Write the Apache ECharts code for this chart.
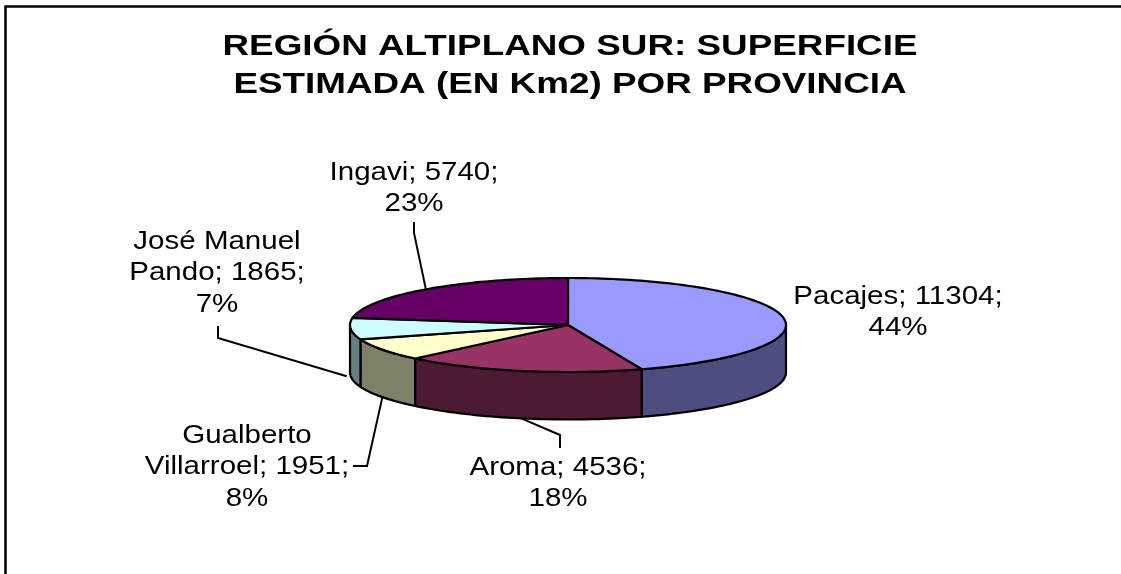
<!DOCTYPE html>
<html><head><meta charset="utf-8">
<style>html,body{margin:0;padding:0;background:#fff}#c{width:1121px;height:574px}</style>
<script src="https://cdn.jsdelivr.net/npm/echarts@6/dist/echarts.min.js"></script>
</head><body><div id="c"></div>
<script>
const titleLines = ['REGIÓN ALTIPLANO SUR: SUPERFICIE','ESTIMADA (EN Km2) POR PROVINCIA'];
const categories = ['Pacajes','Aroma','Gualberto Villarroel','José Manuel Pando','Ingavi'];
const values = [11304,4536,1951,1865,5740];
const percents = [44,18,8,7,23];
const topColors = ['#9999FF','#993366','#FFFFCC','#CCFFFF','#660066'];
const sideColors = ['#4D4D80','#4D1A33','#808066','#668080','#330033'];
const labelLines = [
  ['Pacajes; 11304;','44%'],
  ['Aroma; 4536;','18%'],
  ['Gualberto','Villarroel; 1951;','8%'],
  ['José Manuel','Pando; 1865;','7%'],
  ['Ingavi; 5740;','23%']
];
const cx=568, cy=325, rx=218, ry=47, depth=47.5;
const labelPos=[[898,281],[558,452],[247,420],[217,226],[414,157]];
const leaderMid=[null,[[560,435],[560,448]],[[367,466],[353,466]],[[218,338],[218,326]],[[414,233],[414,222]]];
const leaderOnSide=[false,true,true,true,false];
const leaderGap=[0,0,0,4,0];
const total=values.reduce((a,b)=>a+b,0);
const rad=d=>d*Math.PI/180;
const pt=(t,dy)=>[cx+rx*Math.sin(t),cy-ry*Math.cos(t)+(dy||0)];
const arc=(a,b,dy)=>{const n=Math.max(2,Math.ceil(Math.abs(b-a)/rad(1.5)));const p=[];for(let i=0;i<=n;i++)p.push(pt(a+(b-a)*i/n,dy));return p;};
const angles=[];let acc=0;values.forEach(v=>{const s=acc/total*2*Math.PI;acc+=v;angles.push([s,acc/total*2*Math.PI]);});
const stroke={stroke:'#000',lineWidth:2.2,lineJoin:'round'};
function renderItem(params,api){
  const i=api.value(0);const [s,e]=angles[i];const ch=[];
  const a=Math.max(s,Math.PI/2),b=Math.min(e,Math.PI*1.5);
  if(b>a){const up=arc(a,b,0),dn=arc(a,b,depth).reverse();
    ch.push({type:'polygon',shape:{points:up.concat(dn)},style:{fill:sideColors[i],...stroke}});}
  return {type:'group',children:ch.concat([{type:'polygon',shape:{points:[[cx,cy]].concat(arc(s,e,0))},style:{fill:topColors[i],...stroke}}])};
}
function renderLabel(params,api){
  const i=api.value(0);const [s,e]=angles[i];const m=(s+e)/2;const ch=[];
  if(leaderMid[i]){const a=pt(m,leaderOnSide[i]?depth:0);a[0]-=leaderGap[i];
    ch.push({type:'polyline',shape:{points:[a].concat(leaderMid[i])},style:{fill:null,stroke:'#000',lineWidth:2}});}
  ch.push({type:'text',x:labelPos[i][0],y:labelPos[i][1],scaleX:1.18,style:{text:labelLines[i].join('\n'),fill:'#000',font:'25px "Liberation Sans"',align:'center',verticalAlign:'top',lineHeight:31.5}});
  return {type:'group',children:ch};
}
const chart=echarts.init(document.getElementById('c'),null,{renderer:'canvas'});
chart.setOption({
  animation:false,backgroundColor:'#fff',
  xAxis:{show:false},yAxis:{show:false},
  series:[
    {type:'custom',coordinateSystem:'none',renderItem,data:values.map((v,i)=>[i,v]),z:2,silent:true},
    {type:'custom',coordinateSystem:'none',renderItem:renderLabel,data:values.map((v,i)=>[i,v]),z:3,silent:true}
  ],
  graphic:[
    {type:'polyline',shape:{points:[[5.5,574],[5.5,6.5],[1121,6.5]]},style:{fill:null,stroke:'#000',lineWidth:2.5}},
    {type:'text',x:570,y:28,scaleX:1.27,style:{text:titleLines.join('\n'),fill:'#000',font:'bold 29px "Liberation Sans"',align:'center',verticalAlign:'top',lineHeight:38}}
  ]
});
</script></body></html>
